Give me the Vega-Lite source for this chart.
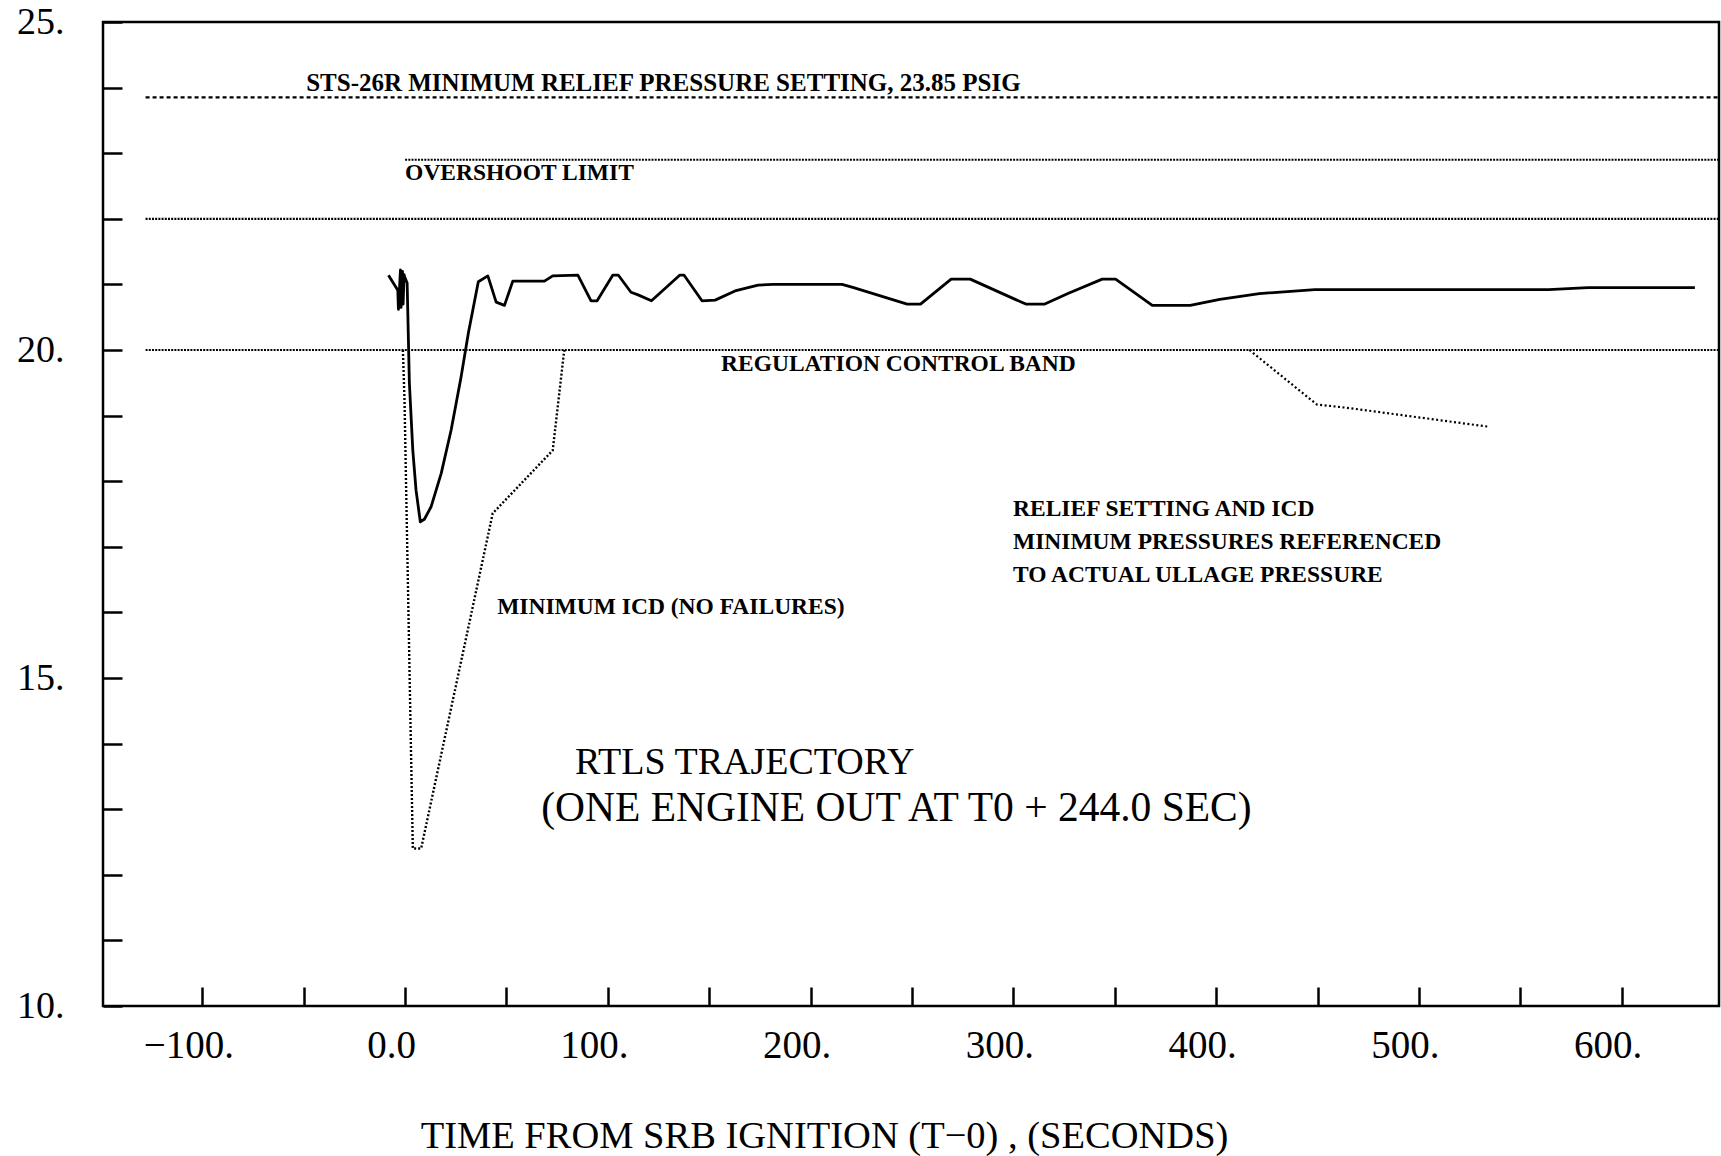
{
  "$schema": "https://vega.github.io/schema/vega-lite/v6.json",
  "autosize": {"type": "none"},
  "padding": {"left": 103, "top": 22, "right": 2, "bottom": 150},
  "width": 1616,
  "height": 984,
  "background": "white",
  "config": {
    "view": {"stroke": "black", "strokeWidth": 2.5},
    "font": "Liberation Serif"
  },
  "datasets": {
    "hlines": [
      {"y": 23.85, "x1": -128, "x2": 648, "style": "dash"},
      {"y": 22.9, "x1": 0, "x2": 648, "style": "dot"},
      {"y": 22.0, "x1": -128, "x2": 648, "style": "dot"},
      {"y": 20.0, "x1": -128, "x2": 648, "style": "dot"}
    ],
    "ullage": [
      {"i": 1, "t": -8.2, "p": 21.14},
      {"i": 2, "t": -3.6, "p": 20.91},
      {"i": 3, "t": -3.3, "p": 20.62},
      {"i": 4, "t": -2.3, "p": 21.22},
      {"i": 5, "t": -2.0, "p": 20.65},
      {"i": 6, "t": -1.3, "p": 21.2},
      {"i": 7, "t": -1.0, "p": 20.7},
      {"i": 8, "t": -0.5, "p": 21.15},
      {"i": 9, "t": -0.3, "p": 21.12},
      {"i": 10, "t": 1.0, "p": 21.02},
      {"i": 11, "t": 2.1, "p": 19.5},
      {"i": 12, "t": 3.8, "p": 18.47},
      {"i": 13, "t": 5.4, "p": 17.86},
      {"i": 14, "t": 7.5, "p": 17.38},
      {"i": 15, "t": 9.5, "p": 17.42},
      {"i": 16, "t": 12.8, "p": 17.61},
      {"i": 17, "t": 17.8, "p": 18.12},
      {"i": 18, "t": 22.7, "p": 18.78},
      {"i": 19, "t": 27.6, "p": 19.59},
      {"i": 20, "t": 31.2, "p": 20.26},
      {"i": 21, "t": 36.1, "p": 21.04},
      {"i": 22, "t": 40.8, "p": 21.13},
      {"i": 23, "t": 44.9, "p": 20.73},
      {"i": 24, "t": 49.0, "p": 20.68},
      {"i": 25, "t": 53.1, "p": 21.05},
      {"i": 26, "t": 68.7, "p": 21.05},
      {"i": 27, "t": 72.8, "p": 21.13},
      {"i": 28, "t": 85.2, "p": 21.14},
      {"i": 29, "t": 91.7, "p": 20.75},
      {"i": 30, "t": 94.7, "p": 20.75},
      {"i": 31, "t": 102.4, "p": 21.14},
      {"i": 32, "t": 105.2, "p": 21.14},
      {"i": 33, "t": 111.4, "p": 20.88},
      {"i": 34, "t": 114.9, "p": 20.84},
      {"i": 35, "t": 121.5, "p": 20.75},
      {"i": 36, "t": 135.4, "p": 21.14},
      {"i": 37, "t": 137.6, "p": 21.14},
      {"i": 38, "t": 146.4, "p": 20.75},
      {"i": 39, "t": 152.9, "p": 20.76},
      {"i": 40, "t": 162.7, "p": 20.9},
      {"i": 41, "t": 174.1, "p": 20.99},
      {"i": 42, "t": 181.5, "p": 21.0},
      {"i": 43, "t": 215.5, "p": 21.0},
      {"i": 44, "t": 221.2, "p": 20.95},
      {"i": 45, "t": 247.6, "p": 20.7},
      {"i": 46, "t": 254.2, "p": 20.7},
      {"i": 47, "t": 269.3, "p": 21.08},
      {"i": 48, "t": 278.7, "p": 21.08},
      {"i": 49, "t": 306.1, "p": 20.7},
      {"i": 50, "t": 315.5, "p": 20.7},
      {"i": 51, "t": 326.9, "p": 20.86},
      {"i": 52, "t": 343.8, "p": 21.08},
      {"i": 53, "t": 350.4, "p": 21.08},
      {"i": 54, "t": 368.5, "p": 20.68},
      {"i": 55, "t": 387.2, "p": 20.68},
      {"i": 56, "t": 401.8, "p": 20.77},
      {"i": 57, "t": 421.3, "p": 20.86},
      {"i": 58, "t": 448.7, "p": 20.92},
      {"i": 59, "t": 479.9, "p": 20.92},
      {"i": 60, "t": 538.5, "p": 20.92},
      {"i": 61, "t": 563.9, "p": 20.92},
      {"i": 62, "t": 583.4, "p": 20.95},
      {"i": 63, "t": 636.1, "p": 20.95}
    ],
    "icd": [
      {"i": 1, "t": -1.1, "p": 20.0},
      {"i": 2, "t": -0.3, "p": 19.24},
      {"i": 3, "t": 3.8, "p": 12.4},
      {"i": 4, "t": 7.9, "p": 12.4},
      {"i": 5, "t": 43.2, "p": 17.51},
      {"i": 6, "t": 72.8, "p": 18.47},
      {"i": 7, "t": 78.3, "p": 19.95},
      {"i": 8, "t": 78.6, "p": 20.0}
    ],
    "relief": [
      {"i": 1, "t": 416.4, "p": 20.0},
      {"i": 2, "t": 449.6, "p": 19.17},
      {"i": 3, "t": 464.3, "p": 19.12},
      {"i": 4, "t": 534.5, "p": 18.83}
    ],
    "headline": [
      {"t": -48.8, "p": 23.95, "label": "STS-26R MINIMUM RELIEF PRESSURE SETTING, 23.85 PSIG"}
    ],
    "notes": [
      {"t": 0, "p": 22.59, "label": "OVERSHOOT LIMIT"},
      {"t": 155.8, "p": 19.68, "label": "REGULATION CONTROL BAND"},
      {"t": 45.4, "p": 15.98, "label": "MINIMUM ICD (NO FAILURES)"},
      {"t": 299.8, "p": 17.47, "label": "RELIEF SETTING AND ICD\nMINIMUM PRESSURES REFERENCED\nTO ACTUAL ULLAGE PRESSURE"}
    ],
    "title1": [
      {"t": 83.8, "p": 13.53, "label": "RTLS TRAJECTORY"}
    ],
    "title2": [
      {"t": 67.1, "p": 12.82, "label": "(ONE ENGINE OUT AT T0 + 244.0 SEC)"}
    ]
  },
  "encoding": {
    "x": {
      "type": "quantitative",
      "scale": {"domain": [-149, 648], "nice": false, "zero": false},
      "axis": {
        "values": [-100, -50, 0, 50, 100, 150, 200, 250, 300, 350, 400, 450, 500, 550, 600],
        "labelExpr": "datum.value == 0 ? '0.0' : (datum.value % 100 == 0 ? format(datum.value, 'd') + '.' : '')",
        "tickSize": -19,
        "tickWidth": 2.5,
        "tickColor": "black",
        "domain": false,
        "grid": false,
        "labelFont": "Liberation Serif",
        "labelFontSize": 39,
        "labelColor": "black",
        "labelBaseline": "alphabetic",
        "labelPadding": 70,
        "labelOffset": -14,
        "labelFlush": false,
        "labelOverlap": false,
        "title": "TIME FROM SRB IGNITION (T−0) , (SECONDS)",
        "titleFont": "Liberation Serif",
        "titleFontSize": 38.5,
        "titleFontWeight": "normal",
        "titleColor": "black",
        "titleBaseline": "alphabetic",
        "titleAnchor": "start",
        "titleAlign": "center",
        "titleX": 721,
        "titleY": 141
      }
    },
    "y": {
      "type": "quantitative",
      "scale": {"domain": [10, 25], "nice": false, "zero": false},
      "axis": {
        "values": [10, 11, 12, 13, 14, 15, 16, 17, 18, 19, 20, 21, 22, 23, 24, 25],
        "labelExpr": "datum.value % 5 == 0 ? datum.value + '.' : ''",
        "tickSize": -19,
        "tickWidth": 2.5,
        "tickColor": "black",
        "domain": false,
        "grid": false,
        "labelFont": "Liberation Serif",
        "labelFontSize": 38,
        "labelColor": "black",
        "labelBaseline": "middle",
        "labelAlign": "right",
        "labelPadding": 58,
        "labelFlush": false,
        "labelOverlap": false,
        "title": null
      }
    }
  },
  "layer": [
    {
      "data": {"name": "hlines"},
      "mark": {"type": "rule", "color": "black", "strokeWidth": 2.2},
      "encoding": {
        "x": {"field": "x1", "type": "quantitative"},
        "x2": {"field": "x2"},
        "y": {"field": "y", "type": "quantitative"},
        "strokeDash": {
          "field": "style",
          "type": "nominal",
          "scale": {"domain": ["dash", "dot"], "range": [[4, 3], [2, 1.2]]},
          "legend": null
        }
      }
    },
    {
      "data": {"name": "icd"},
      "mark": {"type": "line", "color": "black", "strokeWidth": 2.4, "strokeDash": [2, 2]},
      "encoding": {
        "x": {"field": "t", "type": "quantitative"},
        "y": {"field": "p", "type": "quantitative"},
        "order": {"field": "i", "type": "quantitative"}
      }
    },
    {
      "data": {"name": "relief"},
      "mark": {"type": "line", "color": "black", "strokeWidth": 2.2, "strokeDash": [2, 2.5]},
      "encoding": {
        "x": {"field": "t", "type": "quantitative"},
        "y": {"field": "p", "type": "quantitative"},
        "order": {"field": "i", "type": "quantitative"}
      }
    },
    {
      "data": {"name": "ullage"},
      "mark": {"type": "line", "color": "black", "strokeWidth": 2.8, "strokeJoin": "round"},
      "encoding": {
        "x": {"field": "t", "type": "quantitative"},
        "y": {"field": "p", "type": "quantitative"},
        "order": {"field": "i", "type": "quantitative"}
      }
    },
    {
      "data": {"name": "headline"},
      "mark": {"type": "text", "align": "left", "baseline": "alphabetic", "font": "Liberation Serif", "fontWeight": "bold", "fontSize": 25, "color": "black"},
      "encoding": {
        "x": {"field": "t", "type": "quantitative"},
        "y": {"field": "p", "type": "quantitative"},
        "text": {"field": "label"}
      }
    },
    {
      "data": {"name": "notes"},
      "mark": {"type": "text", "align": "left", "baseline": "alphabetic", "font": "Liberation Serif", "fontWeight": "bold", "fontSize": 23.5, "lineHeight": 33, "color": "black", "lineBreak": "\n"},
      "encoding": {
        "x": {"field": "t", "type": "quantitative"},
        "y": {"field": "p", "type": "quantitative"},
        "text": {"field": "label"}
      }
    },
    {
      "data": {"name": "title1"},
      "mark": {"type": "text", "align": "left", "baseline": "alphabetic", "font": "Liberation Serif", "fontSize": 38, "color": "black"},
      "encoding": {
        "x": {"field": "t", "type": "quantitative"},
        "y": {"field": "p", "type": "quantitative"},
        "text": {"field": "label"}
      }
    },
    {
      "data": {"name": "title2"},
      "mark": {"type": "text", "align": "left", "baseline": "alphabetic", "font": "Liberation Serif", "fontSize": 41.5, "color": "black"},
      "encoding": {
        "x": {"field": "t", "type": "quantitative"},
        "y": {"field": "p", "type": "quantitative"},
        "text": {"field": "label"}
      }
    }
  ]
}
